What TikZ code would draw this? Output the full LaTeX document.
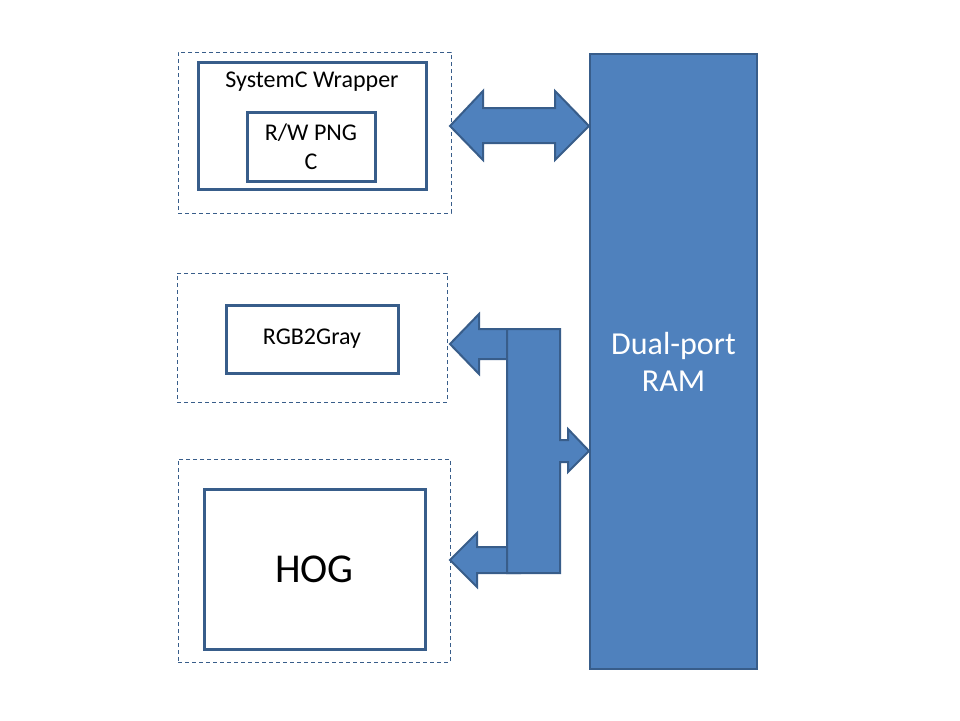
\documentclass[tikz,border=0pt]{standalone}
\usepackage{fontspec}
\setmainfont{Carlito}
\usepackage{tikz}
\usepackage{xcolor}
\usetikzlibrary{calc,positioning}

\definecolor{ramfill}{HTML}{4F81BD}
\definecolor{ramline}{HTML}{385D8A}

\begin{document}
\begin{tikzpicture}[x=1pt,y=-1pt,
    frame/.style={draw=ramline,line width=1pt,dash pattern=on 4pt off 3pt,
      inner sep=0pt},
    block/.style={draw=ramline,line width=3pt,fill=white,inner sep=0pt,
      align=center,font=\fontsize{24}{29}\selectfont},
    blockarrow/.style={draw=ramline,line width=2pt,fill=ramfill,line join=miter}]
    \useasboundingbox[fill=white] (0,0) rectangle (960,720);
    % dashed frames
    \node (wrapframe) [frame,minimum width=273pt,minimum height=161pt] at (314.5,132.5) {};
    \node (grayframe) [frame,minimum width=270pt,minimum height=129pt] at (312,337.5) {};
    \node (hogframe) [frame,minimum width=272pt,minimum height=203pt] at (314,560.5) {};
    % blocks
    \node (wrapper) [block,minimum width=228pt,minimum height=127pt] at (312,125.5) {};
    \node (wraplabel) [font=\fontsize{24}{29}\selectfont,inner sep=0pt] at (312,82) {SystemC Wrapper};
    \node (pngrw) [block,minimum width=128pt,minimum height=69pt] at (311,146.5) {R/W PNG\\C};
    \node (gray) [block,minimum width=172pt,minimum height=68pt] at (312,339) {RGB2Gray};
    \node (hog) [block,minimum width=221pt,minimum height=160pt,
      font=\fontsize{41}{49}\selectfont] at (314.5,569) {HOG};
    \node (ram) [draw=ramline,line width=2pt,fill=ramfill,text=white,align=center,
      minimum width=167pt,minimum height=615pt,
      font=\fontsize{32}{37}\selectfont] at (673.5,361.5) {Dual-port\\RAM};
    % bus arrows
    \draw[blockarrow] (450,126) -- (483,91) -- (483,108) -- (555,108) -- (555,91)
      -- (589,126) -- (555,160) -- (555,143) -- (483,143) -- (483,160) -- cycle;
    \draw[blockarrow] (450,344) -- (479,314) -- (479,329) -- (520,329) -- (520,359)
      -- (479,359) -- (479,374) -- cycle;
    \draw[blockarrow] (450,560) -- (477,533) -- (477,547) -- (520,547) -- (520,573)
      -- (477,573) -- (477,587) -- cycle;
    \draw[blockarrow] (507,329) -- (560,329) -- (560,440) -- (568,440) -- (568,429)
      -- (589,451) -- (568,472) -- (568,462) -- (560,462) -- (560,573)
      -- (507,573) -- cycle;
  \end{tikzpicture}
\end{document}
